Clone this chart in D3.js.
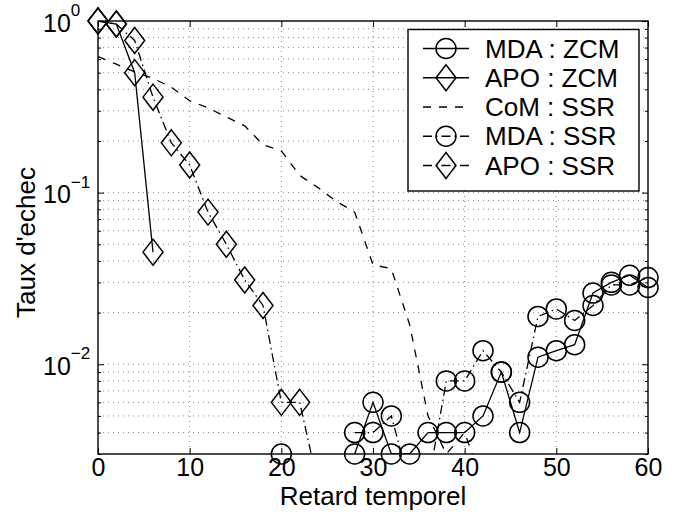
<!DOCTYPE html>
<meta charset="utf-8">

<!-- Load d3.js -->
<script src="https://d3js.org/d3.v7.min.js"></script>

<style>
  body { margin: 0; background: #fff; }
  #my_dataviz text { font-family: "Liberation Sans", Arial, Helvetica, sans-serif; fill: #000; }
</style>

<!-- Create a div where the graph will take place -->
<div id="my_dataviz"></div>

<script>
    // delay values (x), one point every 2 steps
    const delay = [0, 2, 4, 6, 8, 10, 12, 14, 16, 18, 20, 22, 24, 26, 28, 30,
                   32, 34, 36, 38, 40, 42, 44, 46, 48, 50, 52, 54, 56, 58, 60];

    // failure rates (0 = nothing to draw on a log axis)
    const mdaZcm = [0, 0, 0, 0, 0, 0, 0, 0, 0, 0, 0.003, 0, 0, 0, 0.003, 0.006,
                    0.003, 0.003, 0.004, 0.004, 0.004, 0.005, 0.009, 0.004, 0.011, 0.012, 0.013, 0.026, 0.030, 0.033, 0.028];
    const apoZcm = [1.0, 0.96, 0.50, 0.045, 0, 0, 0, 0, 0, 0, 0, 0, 0, 0, 0, 0,
                    0, 0, 0, 0, 0, 0, 0, 0, 0, 0, 0, 0, 0, 0, 0];
    const comSsr = [0.62, 0.56, 0.505, 0.463, 0.411, 0.343, 0.312, 0.276, 0.245, 0.190, 0.175, 0.126, 0.107, 0.089, 0.077, 0.038,
                    0.036, 0.017, 0.005, 0.003, 0.004, 0.002, 0, 0, 0, 0, 0, 0, 0, 0, 0];
    const mdaSsr = [0, 0, 0, 0, 0, 0, 0, 0, 0, 0, 0, 0, 0, 0, 0.004, 0.004,
                    0.005, 0.002, 0.002, 0.008, 0.008, 0.012, 0.009, 0.006, 0.019, 0.021, 0.018, 0.022, 0.029, 0.029, 0.032];
    const apoSsr = [1.0, 0.96, 0.77, 0.36, 0.195, 0.145, 0.077, 0.050, 0.031, 0.022, 0.006, 0.006, 0.002, 0, 0, 0,
                    0, 0, 0, 0, 0, 0, 0, 0, 0, 0, 0, 0, 0, 0, 0];

    const seriesNames = ["MDA : ZCM", "APO : ZCM", "CoM : SSR", "MDA : SSR", "APO : SSR"];

    // tick labels
    const xTicks = [0, 10, 20, 30, 40, 50, 60];
    const yDecades = [1, 0.1, 0.01];
    const yExponents = ["0", "\u22121", "\u22122"];

    // plot box in page pixels
    const box = {left: 98, right: 648, top: 21, bottom: 454};

    const svg = d3.select("#my_dataviz")
      .append("svg")
        .attr("width", 683)
        .attr("height", 521);

    const xScale = d3.scaleLinear()
        .domain([0, 60])
        .range([box.left, box.right]);

    const yScale = d3.scaleLog()
        .domain([0.003, 1])
        .range([box.bottom, box.top]);

    // minor log positions 2..9 in each decade, inside the domain
    const yMinor = [];
    [0.001, 0.01, 0.1].forEach(dec => {
        for (let k = 2; k <= 9; k++) {
            const v = +(dec * k).toPrecision(3);
            if (v >= 0.003 && v < 1) yMinor.push(v);
        }
    });

    // dotted grid
    const grid = svg.append("g")
        .attr("stroke", "#000")
        .attr("stroke-width", 0.7)
        .attr("stroke-dasharray", "1,4")
        .attr("opacity", 0.65);
    grid.selectAll(".gx")
        .data(xTicks.filter(t => t > 0 && t < 60))
        .join("line")
          .attr("x1", d => xScale(d)).attr("x2", d => xScale(d))
          .attr("y1", box.top).attr("y2", box.bottom);
    grid.selectAll(".gy")
        .data(yDecades.filter(d => d < 1).concat(yMinor.filter(d => d > 0.003)))
        .join("line")
          .attr("x1", box.left).attr("x2", box.right)
          .attr("y1", d => yScale(d)).attr("y2", d => yScale(d));

    // ticks on all four sides, pointing inwards
    const tickStyle = g => {
        g.select(".domain").remove();
        g.selectAll(".tick line").attr("stroke-width", 1);
    };

    svg.append("g")
        .attr("transform", `translate(0, ${box.bottom})`)
        .call(d3.axisBottom(xScale).tickValues(xTicks).tickSizeInner(-6).tickSizeOuter(0).tickPadding(4))
        .call(tickStyle)
        .call(g => g.selectAll(".tick text").style("font-size", "25px"));

    svg.append("g")
        .attr("transform", `translate(0, ${box.top})`)
        .call(d3.axisTop(xScale).tickValues(xTicks).tickSizeInner(-6).tickSizeOuter(0).tickFormat(""))
        .call(tickStyle);

    [[d3.axisLeft, box.left], [d3.axisRight, box.right]].forEach(([axisFn, xPos]) => {
        svg.append("g")
            .attr("transform", `translate(${xPos}, 0)`)
            .call(axisFn(yScale).tickValues(yDecades).tickSizeInner(-6).tickSizeOuter(0).tickFormat(""))
            .call(tickStyle);
        svg.append("g")
            .attr("transform", `translate(${xPos}, 0)`)
            .call(axisFn(yScale).tickValues(yMinor).tickSizeInner(-3).tickSizeOuter(0).tickFormat(""))
            .call(tickStyle);
    });

    // y labels as 10 with a superscript exponent
    const yLab = svg.selectAll(".ylab")
        .data(yDecades)
        .join("text")
          .attr("x", 43)
          .attr("y", d => yScale(d) + 10.5)
          .style("font-size", "25px");
    yLab.append("tspan").text("10");
    yLab.append("tspan")
        .attr("dy", -15.5)
        .style("font-size", "17px")
        .text((d, i) => yExponents[i]);

    // axis titles
    svg.append("text")
        .attr("x", (box.left + box.right) / 2)
        .attr("y", 505)
        .attr("text-anchor", "middle")
        .style("font-size", "26px")
        .text("Retard temporel");

    svg.append("text")
        .attr("transform", `translate(35, ${(box.top + box.bottom) / 2 + 5}) rotate(-90)`)
        .attr("text-anchor", "middle")
        .style("font-size", "26px")
        .text("Taux d'echec");

    // series
    const circlePath = "M10,0A10,10 0 1,1 -10,0A10,10 0 1,1 10,0Z";
    const diamondPath = "M0,-13L10,0L0,13L-10,0Z";
    const dashDot = "9,4,1.5,4";

    const series = [
        {name: seriesNames[0], values: mdaZcm, dash: null, marker: circlePath},
        {name: seriesNames[1], values: apoZcm, dash: null, marker: diamondPath},
        {name: seriesNames[2], values: comSsr, dash: "8,8", marker: null},
        {name: seriesNames[3], values: mdaSsr, dash: dashDot, marker: circlePath},
        {name: seriesNames[4], values: apoSsr, dash: dashDot, marker: diamondPath}
    ];

    svg.append("clipPath")
        .attr("id", "plot-clip")
      .append("rect")
        .attr("x", box.left).attr("y", box.top)
        .attr("width", box.right - box.left)
        .attr("height", box.bottom - box.top);

    const line = d3.line()
        .defined(d => d.v > 0)
        .x(d => xScale(d.x))
        .y(d => yScale(d.v));

    series.forEach(s => {
        const pts = delay.map((x, i) => ({x: x, v: s.values[i]}));
        svg.append("path")
            .datum(pts)
            .attr("clip-path", "url(#plot-clip)")
            .attr("fill", "none")
            .attr("stroke", "#000")
            .attr("stroke-width", 1.3)
            .attr("stroke-dasharray", s.dash)
            .attr("d", line);

        if (s.marker) {
            // markers only where the point lies inside the axes
            svg.append("g")
                .selectAll("path")
                .data(pts.filter(d => d.v >= 0.00299 && d.v <= 1.001))
                .join("path")
                  .attr("transform", d => `translate(${xScale(d.x)}, ${yScale(d.v)})`)
                  .attr("d", s.marker)
                  .attr("fill", "none")
                  .attr("stroke", "#000")
                  .attr("stroke-width", 1.5);
        }
    });

    // frame
    svg.append("rect")
        .attr("x", box.left).attr("y", box.top)
        .attr("width", box.right - box.left)
        .attr("height", box.bottom - box.top)
        .attr("fill", "none")
        .attr("stroke", "#000")
        .attr("stroke-width", 1.4);

    // legend
    const legend = svg.append("g");
    legend.append("rect")
        .attr("x", 408).attr("y", 29.5)
        .attr("width", 231).attr("height", 161.5)
        .attr("fill", "#fff")
        .attr("stroke", "#000")
        .attr("stroke-width", 1.4);

    const rowY = d3.scaleLinear().domain([0, 4]).range([48.5, 165.5]);

    series.forEach((s, i) => {
        const y = rowY(i);
        legend.append("line")
            .attr("x1", 423).attr("x2", 469)
            .attr("y1", y).attr("y2", y)
            .attr("stroke", "#000")
            .attr("stroke-width", 1.3)
            .attr("stroke-dasharray", s.dash);
        if (s.marker) {
            legend.append("path")
                .attr("transform", `translate(446, ${y})`)
                .attr("d", s.marker)
                .attr("fill", "none")
                .attr("stroke", "#000")
                .attr("stroke-width", 1.5);
        }
        legend.append("text")
            .attr("x", 485)
            .attr("y", y + 9)
            .style("font-size", "26px")
            .text(s.name);
    });
</script>
